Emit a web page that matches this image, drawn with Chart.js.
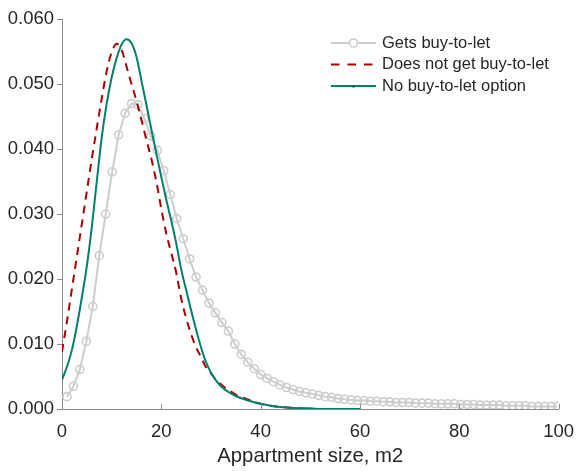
<!DOCTYPE html>
<html>
<head>
<meta charset="utf-8">
<title>Appartment size distribution</title>
<script src="https://cdn.jsdelivr.net/npm/chart.js@4.4.0/dist/chart.umd.min.js"></script>
<style>
  body { margin: 0; background: #fff; }
  #wrap { width: 586px; height: 471px; }
</style>
</head>
<body>
<div id="wrap"><canvas id="sizeChart" width="586" height="471"></canvas></div>
<script>
// data
const seriesNames = ['Gets buy-to-let', 'Does not get buy-to-let', 'No buy-to-let option'];

// gets buy-to-let (grey circles)
const getsSize = [1.0, 2.3, 3.6, 4.9, 6.2, 7.5, 8.8, 10.1, 11.4, 12.7, 14.0, 15.3, 16.6, 17.9, 19.2, 20.5,
  21.8, 23.1, 24.4, 25.7, 27.0, 28.3, 29.6, 30.9, 32.2, 33.5, 34.8, 36.1, 37.4, 38.7, 40.0, 41.3,
  42.6, 43.9, 45.2, 46.5, 47.8, 49.1, 50.4, 51.7, 53.0, 54.3, 55.6, 56.9, 58.2, 59.5, 60.8, 62.1,
  63.4, 64.7, 66.0, 67.3, 68.6, 69.9, 71.2, 72.5, 73.8, 75.1, 76.4, 77.7, 79.0, 80.3, 81.6, 82.9,
  84.2, 85.5, 86.8, 88.1, 89.4, 90.7, 92.0, 93.3, 94.6, 95.9, 97.2, 98.5, 99.8];
const getsShare = [0.0019, 0.0035, 0.0061, 0.0104, 0.0158, 0.0236, 0.0300, 0.0365, 0.0422, 0.0455, 0.0470, 0.0468, 0.0447, 0.0420, 0.0398, 0.0367,
  0.0330, 0.0293, 0.0262, 0.0231, 0.0203, 0.0183, 0.0163, 0.0148, 0.0133, 0.0120, 0.0100, 0.0084, 0.0072, 0.0062, 0.0053, 0.0047,
  0.0042, 0.0037, 0.0033, 0.0030, 0.0027, 0.0025, 0.0023, 0.0021, 0.0019, 0.0018, 0.0016, 0.0015, 0.0014, 0.0013, 0.0013, 0.0012,
  0.0012, 0.0011, 0.0011, 0.0010, 0.0010, 0.0010, 0.0009, 0.0009, 0.0009, 0.0008, 0.0008, 0.0008, 0.0008, 0.0007, 0.0007, 0.0007,
  0.0006, 0.0006, 0.0006, 0.0006, 0.0005, 0.0005, 0.0005, 0.0005, 0.0004, 0.0004, 0.0004, 0.0004, 0.0004];

// does not get buy-to-let (red dashed)
const notSize = [0, 1, 2, 3, 4, 5, 6, 7, 8, 9, 10, 11, 12, 13, 14, 15, 16, 17, 18, 19, 20,
  21, 22, 23, 24, 25, 26, 27, 28, 29, 30, 31, 32, 33, 34, 35, 36, 38, 40, 42, 44, 46, 48, 50];
const notShare = [0.0088, 0.0135, 0.0185, 0.0235, 0.0285, 0.0335, 0.0385, 0.0432, 0.0478, 0.0520, 0.0549, 0.0562, 0.0553, 0.0527, 0.0500, 0.0474, 0.0445, 0.0414, 0.0385, 0.0350, 0.0308,
  0.0270, 0.0240, 0.0210, 0.0170, 0.0140, 0.0115, 0.0095, 0.0080, 0.0064, 0.0055, 0.0045, 0.0038, 0.0032, 0.0027, 0.0022, 0.0019, 0.0013, 0.0008, 0.0005, 0.0003, 0.0002, 0.0001, 0.0000];

// no buy-to-let option (green)
const noSize = [0, 1, 2, 3, 4, 5, 6, 7, 8, 9, 10, 11, 12, 13, 14, 15, 16, 17, 18, 19, 20,
  21, 22, 23, 24, 25, 26, 27, 28, 29, 30, 31, 32, 33, 34, 35, 36, 38, 40, 42, 44, 46, 48, 50, 52, 54, 56, 58, 60];
const noShare = [0.0045, 0.0065, 0.0091, 0.0128, 0.0172, 0.0220, 0.0280, 0.0350, 0.0418, 0.0470, 0.0510, 0.0540, 0.0561, 0.0569, 0.0563, 0.0542, 0.0505, 0.0468, 0.0430, 0.0393, 0.0357,
  0.0322, 0.0290, 0.0255, 0.0215, 0.0183, 0.0152, 0.0122, 0.0095, 0.0072, 0.0056, 0.0044, 0.0035, 0.0029, 0.0024, 0.0020, 0.0017, 0.0012, 0.0008, 0.0005, 0.0003, 0.0002, 0.0001, 0.0001, 0.0000, 0.0000, 0.0000, 0.0000, 0.0000];

const xTicks = [0, 20, 40, 60, 80, 100];
const yTicks = [0, 0.01, 0.02, 0.03, 0.04, 0.05, 0.06];

const grey = '#cdcdcd';
const red = '#a80000';
const green = '#00806a';
const axisGrey = '#8a8a8a';
const textCol = '#262626';
const fontFam = '"Liberation Sans", Arial, sans-serif';

function toPoints(xs, ys) {
  return xs.map((x, i) => ({ x: x, y: ys[i] }));
}

// inward x ticks, outward y ticks, and the legend box at top right
const extras = {
  id: 'extras',
  afterDatasetsDraw(chart) {
    const ctx = chart.ctx;
    const xs = chart.scales.x;
    const ys = chart.scales.y;
    const area = chart.chartArea;
    ctx.save();
    ctx.strokeStyle = axisGrey;
    ctx.lineWidth = 1;
    xTicks.forEach(t => {
      const px = Math.round(xs.getPixelForValue(t)) + 0.5;
      ctx.beginPath();
      ctx.moveTo(px, area.bottom);
      ctx.lineTo(px, area.bottom - 5);
      ctx.stroke();
    });
    yTicks.forEach(t => {
      const py = Math.round(ys.getPixelForValue(t)) + 0.5;
      ctx.beginPath();
      ctx.moveTo(area.left, py);
      ctx.lineTo(area.left - 5, py);
      ctx.stroke();
    });

    // legend
    const x0 = 331, x1 = 376, tx = 382;
    const rows = [43, 64.5, 86];
    ctx.font = '16.5px ' + fontFam;
    ctx.textBaseline = 'middle';
    ctx.fillStyle = textCol;
    // grey with circle
    ctx.strokeStyle = grey;
    ctx.lineWidth = 2;
    ctx.beginPath(); ctx.moveTo(x0, rows[0]); ctx.lineTo(x1, rows[0]); ctx.stroke();
    ctx.fillStyle = '#fff';
    ctx.lineWidth = 1.6;
    ctx.beginPath(); ctx.arc((x0 + x1) / 2, rows[0], 4, 0, Math.PI * 2); ctx.fill(); ctx.stroke();
    // red dashed
    ctx.strokeStyle = red;
    ctx.lineWidth = 2;
    ctx.setLineDash([8.5, 8]);
    ctx.beginPath(); ctx.moveTo(x0, rows[1]); ctx.lineTo(x1, rows[1]); ctx.stroke();
    ctx.setLineDash([]);
    // green with small dot
    ctx.strokeStyle = green;
    ctx.beginPath(); ctx.moveTo(x0, rows[2]); ctx.lineTo(x1, rows[2]); ctx.stroke();
    ctx.fillStyle = '#1a4d3a';
    ctx.beginPath(); ctx.arc((x0 + x1) / 2, rows[2] + 0.5, 1.2, 0, Math.PI * 2); ctx.fill();

    ctx.fillStyle = textCol;
    seriesNames.forEach((name, i) => ctx.fillText(name, tx, rows[i]));
    ctx.restore();
  }
};

const config = {
  type: 'line',
  data: {
    datasets: [
      {
        label: seriesNames[0],
        data: toPoints(getsSize, getsShare),
        borderColor: grey,
        borderWidth: 2,
        pointRadius: 4,
        pointBorderWidth: 1.6,
        pointBorderColor: grey,
        pointBackgroundColor: 'rgba(255,255,255,0)',
        tension: 0,
        order: 2
      },
      {
        label: seriesNames[1],
        data: toPoints(notSize, notShare),
        borderColor: red,
        borderWidth: 2,
        borderDash: [8, 6],
        pointRadius: 0,
        cubicInterpolationMode: 'monotone',
        order: 1
      },
      {
        label: seriesNames[2],
        data: toPoints(noSize, noShare),
        borderColor: green,
        borderWidth: 2,
        pointRadius: 0,
        cubicInterpolationMode: 'monotone',
        order: 0
      }
    ]
  },
  options: {
    responsive: false,
    devicePixelRatio: 1,
    animation: false,
    layout: { padding: { top: 15, right: 20, left: 0, bottom: 0 } },
    plugins: {
      legend: { display: false },
      tooltip: { enabled: false }
    },
    scales: {
      x: {
        type: 'linear',
        min: 0,
        max: 100,
        afterBuildTicks: s => { s.ticks = xTicks.map(v => ({ value: v })); },
        afterFit: s => { s.height = 62; },
        grid: { display: false, drawTicks: false },
        border: { display: true, color: axisGrey, width: 1 },
        ticks: {
          color: textCol,
          padding: 12,
          maxRotation: 0,
          font: { family: fontFam, size: 18.5 }
        },
        title: {
          display: true,
          text: 'Appartment size, m2',
          color: textCol,
          font: { family: fontFam, size: 20.3 },
          padding: { top: 0, bottom: 2 }
        }
      },
      y: {
        type: 'linear',
        min: 0,
        max: 0.06,
        afterBuildTicks: s => { s.ticks = yTicks.map(v => ({ value: v })); },
        afterFit: s => { s.width = 62; },
        grid: { display: false, drawTicks: false },
        border: { display: true, color: axisGrey, width: 1 },
        ticks: {
          color: textCol,
          padding: 8,
          font: { family: fontFam, size: 18.5 },
          callback: v => v.toFixed(3)
        }
      }
    }
  },
  plugins: [extras]
};

const sizeChart = new Chart(document.querySelector('#sizeChart'), config);
</script>
</body>
</html>
